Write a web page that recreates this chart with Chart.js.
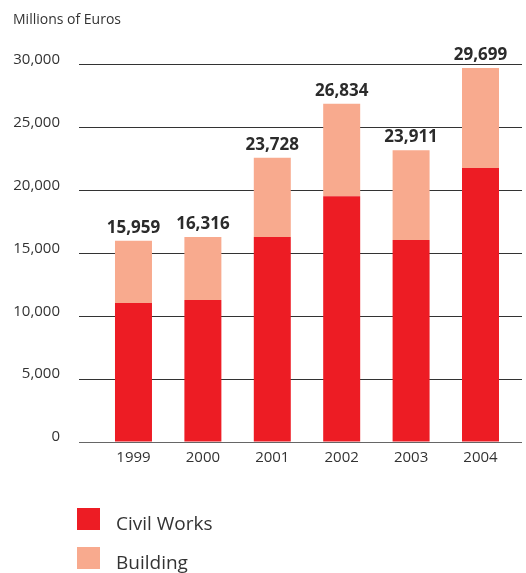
<!DOCTYPE html>
<html><head><meta charset="utf-8">
<script src="https://cdn.jsdelivr.net/npm/chart.js@4.4.1/dist/chart.umd.min.js"></script>
<style>
html,body{margin:0;padding:0;background:#fff;}
#wrap{position:relative;width:526px;height:573px;}
canvas{display:block;}
#legend{position:absolute;left:77px;top:508px;font-family:"Open Sans",sans-serif;font-size:19px;color:#333;}
.item{position:absolute;left:0;display:flex;align-items:baseline;white-space:nowrap;}
.sw{display:block;width:23px;height:22px;margin-right:16px;}
.tx{line-height:1;}
</style></head>
<body><div id="wrap"><canvas id="c" width="526" height="573"></canvas><div id="legend"></div></div>
<script>
const categories = ['1999', '2000', '2001', '2002', '2003', '2004'];
const civilWorks = [11050, 11290, 16300, 19550, 16060, 21800];
const building = [4950, 5010, 6300, 7350, 7150, 7950];
const totalLabels = ['15,959', '16,316', '23,728', '26,834', '23,911', '29,699'];
const seriesNames = ['Civil Works', 'Building'];
const seriesColors = ['#ED1C24', '#F8AA8E'];
const yAxisTitle = 'Millions of Euros';

const toPoints = arr => arr.map((v, i) => ({x: i, y: v}));

const totalsPlugin = {
  id: 'totals',
  afterDatasetsDraw(chart) {
    const meta = chart.getDatasetMeta(chart.data.datasets.length - 1);
    const ctx = chart.ctx;
    ctx.save();
    ctx.font = 'bold 17px "Open Sans"';
    ctx.fillStyle = '#2b2b2b';
    ctx.textAlign = 'center';
    ctx.textBaseline = 'alphabetic';
    meta.data.forEach((el, i) => { ctx.fillText(totalLabels[i], el.x, el.y - 8); });
    ctx.restore();
  }
};

const chart = new Chart(document.getElementById('c'), {
  type: 'bar',
  data: {
    datasets: [
      {label: seriesNames[0], data: toPoints(civilWorks), backgroundColor: seriesColors[0]},
      {label: seriesNames[1], data: toPoints(building), backgroundColor: seriesColors[1]}
    ]
  },
  options: {
    responsive: false,
    animation: false,
    categoryPercentage: 1,
    barPercentage: 0.533,
    layout: {padding: {left: 13, right: 4, top: 0, bottom: 99}},
    plugins: {
      legend: {display: false},
      tooltip: {enabled: false},
      title: {
        display: true, text: yAxisTitle, align: 'start',
        color: '#333', font: {family: '"Open Sans"', size: 14, weight: 'normal'},
        padding: {top: 12, bottom: 36}
      }
    },
    scales: {
      x: {
        type: 'linear', stacked: true, min: -0.785, max: 5.598, offset: false,
        grid: {display: false, drawTicks: false},
        border: {display: false},
        afterBuildTicks: s => { s.ticks = categories.map((_, i) => ({value: i})); },
        ticks: {
          autoSkip: false, maxRotation: 0, padding: 7,
          color: '#333', font: {family: '"Open Sans"', size: 15},
          callback: v => categories[Math.round(v)]
        }
      },
      y: {
        stacked: true, min: 0, max: 30000,
        afterFit: s => { s.width = 66; },
        grid: {
          drawTicks: false, tickLength: 0,
          color: c => (c.tick && c.tick.value === 0) ? '#666' : '#333',
          lineWidth: 1
        },
        border: {display: false},
        ticks: {
          stepSize: 5000, padding: 19, labelOffset: -5,
          color: '#333', font: {family: '"Open Sans"', size: 15},
          callback: v => v.toLocaleString('en-US')
        }
      }
    }
  },
  plugins: [totalsPlugin]
});

const legend = document.getElementById('legend');
chart.data.datasets.forEach((ds, i) => {
  const item = document.createElement('div');
  item.className = 'item';
  item.style.top = (i * 38.6) + 'px';
  const sw = document.createElement('span');
  sw.className = 'sw';
  sw.style.background = ds.backgroundColor;
  const tx = document.createElement('span');
  tx.className = 'tx';
  tx.textContent = ds.label;
  item.appendChild(sw); item.appendChild(tx);
  legend.appendChild(item);
});
</script>
</body></html>
